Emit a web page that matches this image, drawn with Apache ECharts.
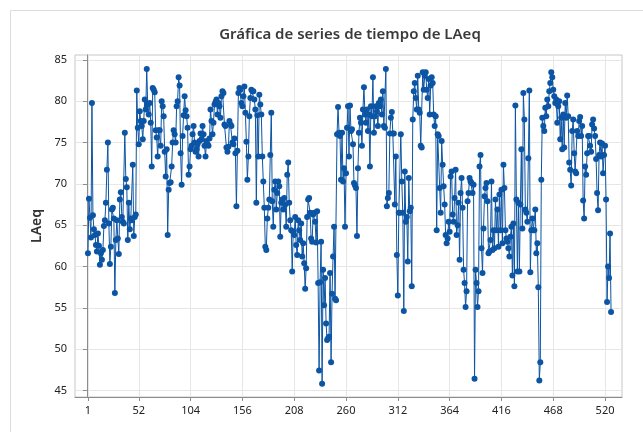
<!DOCTYPE html>
<html>
<head>
<meta charset="utf-8">
<title>Gráfica de series de tiempo de LAeq</title>
<script src="https://cdn.jsdelivr.net/npm/echarts@6/dist/echarts.min.js"></script>
<style>
  html, body { margin: 0; padding: 0; background: #fff; }
  #chart { width: 643px; height: 432px; }
</style>
</head>
<body>
<div id="chart"></div>
<script>
// etiquetas de los ejes
const xTicks = [1, 52, 104, 156, 208, 260, 312, 364, 416, 468, 520]
const yTicks = [45, 50, 55, 60, 65, 70, 75, 80, 85]

// LAeq (dB), una medicion por indice
const laeq = [
  61.6, 68.2, 65.9, 63.5, 79.8, 66.2, 64.5, 63.8, 62.6, 61.8,
  64.0, 62.5, 60.2, 61.6, 60.8, 62.0, 64.9, 65.6, 67.7, 71.7,
  75.0, 65.2, 60.3, 62.4, 66.9, 67.1, 65.8, 56.8, 63.2, 65.6,
  63.4, 61.5, 68.1, 69.0, 66.0, 65.4, 65.2, 76.2, 70.6, 69.6,
  63.2, 67.7, 64.5, 65.8, 65.6, 72.3, 63.7, 66.0, 66.3, 81.3,
  76.8, 74.8, 78.8, 77.6,
  77.0, 75.4, 77.6, 80.2, 79.0, 83.9, 79.6, 78.4, 79.8, 77.4,
  72.1, 81.6, 81.4, 81.1, 76.5, 75.6, 73.3, 76.5, 76.5, 74.6,
  80.0, 79.4, 78.2, 73.9, 70.9, 74.2, 63.8, 69.3, 70.1, 70.2,
  72.1, 75.0, 76.5, 76.0, 75.0, 79.4, 80.0, 82.9, 81.9, 73.7,
  69.9, 75.8, 78.3, 80.6, 78.9, 78.2, 76.8, 71.1, 72.1, 74.2,
  74.6, 76.0, 77.0, 75.0, 73.9, 74.2, 74.8, 73.3, 75.2, 76.1,
  75.4, 77.0, 76.0, 74.6, 73.3, 75.2, 74.8, 74.6, 75.5, 79.0,
  77.6, 76.0, 77.4, 79.6, 79.9, 80.2, 78.4, 79.8, 79.4, 78.0,
  80.6, 81.2, 81.0, 77.2, 77.0, 74.4, 73.9, 74.5, 77.6, 77.2,
  77.0, 75.0, 74.8, 75.5, 73.7, 67.3, 74.0, 81.0, 81.6, 81.4,
  79.8, 79.4, 80.6, 81.8, 78.6, 75.1, 70.5, 73.3, 78.2, 80.4,
  81.4, 81.2, 81.2, 80.2, 79.0, 67.7, 78.3, 73.3, 80.8, 79.6,
  78.4, 73.3, 70.3, 67.1, 62.4, 62.0, 65.8, 67.1, 68.1, 73.5,
  78.6, 67.9, 64.8, 69.3, 70.3, 66.9, 68.9, 70.3, 69.7, 63.6,
  67.7, 68.1, 66.9, 68.3, 67.5, 64.8, 71.1, 72.6, 67.7, 65.6,
  64.4, 59.4, 64.2, 63.8, 66.0, 62.6, 61.4, 65.6, 64.4, 63.2,
  65.2, 61.2, 62.8, 60.4, 57.3, 59.8, 66.0, 68.1, 68.3, 66.5,
  63.4, 63.0, 66.3, 66.5, 65.4, 62.9, 66.7, 58.0, 47.4, 58.1,
  63.0, 45.8, 59.6, 55.3, 58.6, 53.1, 51.1, 51.3, 51.5, 59.2,
  48.4, 56.7, 61.2, 64.8, 56.1, 55.9, 76.0, 79.3, 76.2, 75.8,
  70.5, 76.2, 70.3, 71.9, 64.8, 71.3, 76.8, 79.4, 73.3, 79.5,
  76.4, 76.6, 74.8, 70.1, 69.8, 69.5, 63.7, 71.9, 76.2, 78.0,
  77.4, 74.6, 79.0, 81.7, 78.4, 77.4, 79.0, 76.4, 78.4, 72.1,
  79.4, 78.2, 82.9, 76.2, 78.2, 79.4, 78.8, 77.0, 79.8, 79.4,
  80.2, 78.4, 81.2, 77.0, 76.8, 83.9, 67.3, 68.3, 68.9, 76.1,
  78.0, 78.7, 76.1, 76.1, 67.5, 73.3, 61.4, 56.5, 66.5, 66.5,
  76.0, 70.3, 66.5, 54.6, 71.5, 65.4, 66.0, 60.6, 70.7, 66.7,
  67.1, 57.6, 77.8, 81.2, 82.2, 80.4, 79.0, 83.1, 79.0, 78.6,
  74.6, 74.4, 83.5, 81.4, 83.1, 83.5, 81.4, 80.4, 82.7, 78.4,
  81.9, 82.9, 82.2, 78.4, 77.0, 78.2, 64.4, 76.0, 75.8, 69.5,
  66.5, 75.2, 72.3, 69.7, 67.5, 63.8, 62.8, 63.4, 65.4, 64.2,
  70.9, 71.5, 66.3, 65.4, 68.3, 71.7, 63.8, 65.0, 67.7, 60.8,
  68.9, 70.7, 67.1, 59.6, 58.0, 55.1, 57.0, 67.9, 68.9, 70.7,
  70.3, 70.1, 68.9, 69.9, 46.4, 59.6, 58.0, 55.1, 57.0, 72.1,
  73.5, 62.2, 59.2, 64.6, 68.5, 69.5, 70.1, 67.9, 61.6, 61.8,
  63.2, 70.3, 62.0, 64.4, 62.2, 68.1, 64.4, 66.9, 62.4, 68.7,
  64.4, 69.3, 62.8, 72.3, 69.5, 64.4, 63.4, 63.0, 62.2, 61.2,
  63.6, 64.8, 58.9, 65.2, 57.6, 79.5, 68.1, 59.4, 67.7, 59.4,
  67.5, 74.2, 64.6, 81.0, 77.8, 66.9, 66.5, 65.4, 73.1, 81.3,
  59.3, 64.4, 65.8, 64.4, 64.4, 66.9, 61.6, 62.8, 57.5, 46.2,
  48.4, 70.5, 78.0, 77.0, 76.4, 79.2, 78.2, 80.2, 79.4, 81.2,
  82.2, 83.5, 82.9, 81.4, 80.6, 79.8, 80.2, 77.4, 79.4, 80.0,
  75.4, 78.0, 74.2, 78.4, 74.4, 79.8, 78.0, 80.7, 78.2, 72.6,
  71.7, 69.8, 76.4, 77.8, 73.7, 71.5, 71.3, 76.4, 75.8, 77.6,
  78.1, 75.8, 77.0, 68.0, 65.8, 72.1, 71.1, 73.7, 75.8, 75.8,
  74.6, 73.9, 77.2, 77.8, 76.7, 75.8, 73.0, 68.9, 66.8, 73.5,
  75.0, 73.3, 74.9, 71.3, 73.5, 74.6, 68.1, 55.7, 60.0, 58.6,
  64.0, 54.5
]

const blue = '#0c55a4'
const axisGray = '#8c8c8c'
const gridGray = '#e6e6e6'
const fontName = 'Noto Sans'

const chart = echarts.init(document.getElementById('chart'))

const option = {
  animation: false,
  backgroundColor: '#fff',
  title: {
    text: 'Gráfica de series de tiempo de LAeq',
    left: 345,
    top: 22,
    textAlign: 'center',
    textStyle: { fontFamily: fontName, fontSize: 15, fontWeight: 600, color: '#3a3a3a' }
  },
  // marco gris exterior
  graphic: [
    {
      type: 'rect',
      left: 8,
      top: 8,
      shape: { width: 700, height: 500 },
      style: { fill: 'none', stroke: '#dcdcdc', lineWidth: 1 },
      silent: true
    }
  ],
  grid: {
    left: 75,
    right: 21,
    top: 55,
    bottom: 35,
    show: true,
    borderColor: '#c6c6c6',
    borderWidth: 1
  },
  xAxis: {
    type: 'value',
    min: -12,
    max: 537,
    axisLine: { show: true, onZero: false, lineStyle: { color: axisGray } },
    axisTick: { customValues: xTicks, length: 4, lineStyle: { color: axisGray } },
    axisLabel: { customValues: xTicks, color: '#222', fontFamily: fontName, fontSize: 11, margin: 8 },
    splitLine: { show: true, lineStyle: { color: gridGray } }
  },
  yAxis: {
    type: 'value',
    min: 44.2,
    max: 85.6,
    name: 'LAeq',
    nameLocation: 'middle',
    nameGap: 30,
    nameTextStyle: { fontFamily: fontName, fontSize: 14, fontWeight: 600, color: '#333' },
    axisLine: { show: true, lineStyle: { color: axisGray } },
    axisTick: { show: true, customValues: yTicks, length: 4, lineStyle: { color: axisGray } },
    axisLabel: { customValues: yTicks, color: '#222', fontFamily: fontName, fontSize: 11, margin: 8 },
    splitLine: { show: true, lineStyle: { color: gridGray } }
  },
  series: [
    {
      name: 'LAeq',
      type: 'line',
      data: laeq.map((v, i) => [i + 1, v]),
      symbol: 'circle',
      symbolSize: 6,
      showAllSymbol: true,
      lineStyle: { color: blue, width: 1 },
      itemStyle: { color: blue }
    }
  ]
}

chart.setOption(option)
</script>
</body>
</html>
